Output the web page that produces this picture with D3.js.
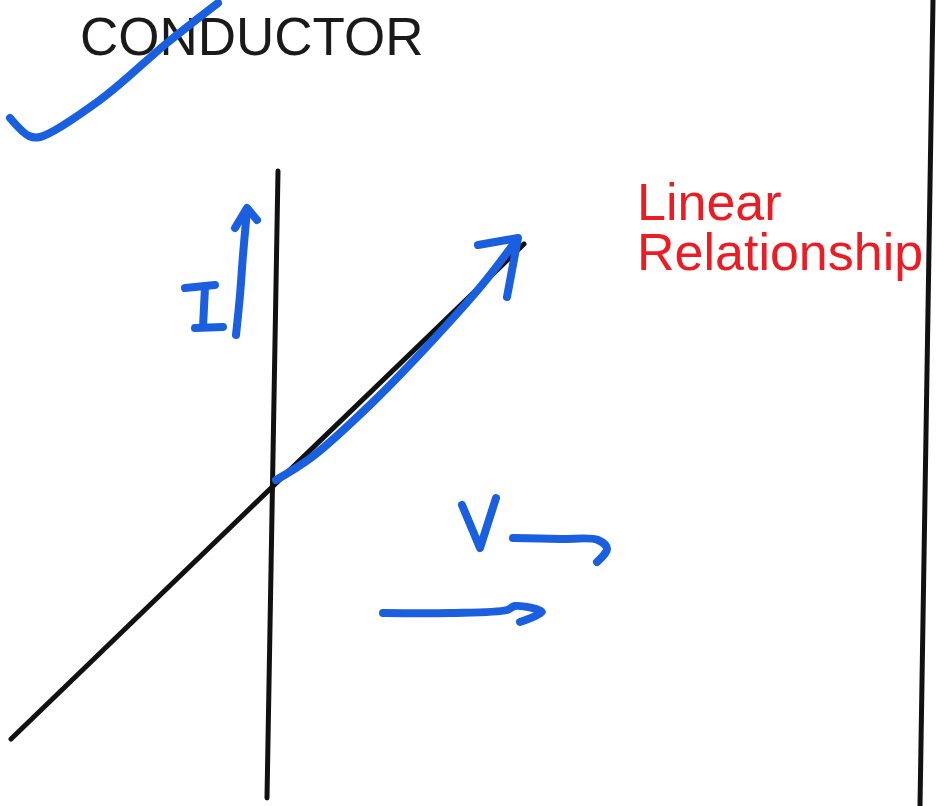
<!DOCTYPE html>
<html>
<head>
<meta charset="utf-8">
<script src="https://cdn.jsdelivr.net/npm/d3@7"></script>
<style>
	html,body{margin:0;padding:0;background:#fff;}
	svg{display:block;}
	.ink{fill:none;stroke-linecap:round;stroke-linejoin:round;}
	.pen{stroke:#111;stroke-width:5;}
	.marker{stroke:#1a5fe0;stroke-width:8;}
	text{font-family:"Liberation Sans",Arial,sans-serif;}
</style>
</head>
<body>
<div id="chart"></div>
<script>
//sketch coordinates: origin where the two axes cross, x to the right (V), y upward (I)
var vAxis=[[6,314],[-5,-313]];//vertical (I) axis
var ivLine=[[-261,-254],[252,241]];//straight I-V line of the conductor
var rightEdge=[[661,485],[648,-321]];//border at the right of the page
var ivTrace=[[4,5],[40,28],[100,82],[160,144],[210,200],[243,243]];//blue trace over the line
var ivHead=[[206,240],[246,247],[235,188]];
var iArrow=[[-36,150],[-32,190],[-29,230],[-25,275]];
var iArrowHead=[[-37,257],[-25,277],[-15,265]];
var iGlyph=[[[-87,197],[-57,200]],[[-67,198],[-69,158]],[[-77,157],[-49,158]]];
var vGlyph=[[190,-20],[208,-63],[224,-13]];
var vArrow=[[241,-53],[288,-54],[326,-55],[335,-64],[325,-77]];
var lowArrow=[[111,-128],[178,-128],[235,-125],[243,-121],[270,-127],[248,-137]];
var tick=[[-262,367],[-243,349],[-232,348],[-172,385],[-105,442],[-54,482]];
var titles=["CONDUCTOR"];
var notes=["Linear","Relationship"];

var width=937,height=806;
var x=d3.scaleLinear().domain([-272,665]).range([0,width]);
var y=d3.scaleLinear().domain([485,-321]).range([0,height]);

var svg=d3.select("#chart").append("svg")
	.attr("width",width)
	.attr("height",height);

var straight=d3.line().x(function(d){return x(d[0]);}).y(function(d){return y(d[1]);});
var smooth=d3.line().x(function(d){return x(d[0]);}).y(function(d){return y(d[1]);}).curve(d3.curveCatmullRom.alpha(0.5));

//printed labels first, the ink goes on top of them
svg.append("text")
	.attr("x",x(-192)).attr("y",y(430))
	.attr("font-size","53px")
	.attr("fill","#1a1a1a")
	.text(titles[0]);
svg.selectAll("text.note")
	.data(notes)
	.enter().append("text")
	.classed("note",true)
	.attr("x",x(365))
	.attr("y",function(d,i){return y(265-i*50);})
	.attr("font-size","52px")
	.attr("fill","#ec1c24")
	.text(function(d){return d;});

//black pen
svg.selectAll("path.pen")
	.data([vAxis,ivLine,rightEdge])
	.enter().append("path")
	.attr("class","ink pen")
	.attr("d",straight);

//blue marker
var strokes=[ivTrace,iArrow,vArrow,lowArrow,tick];
svg.selectAll("path.smooth")
	.data(strokes)
	.enter().append("path")
	.attr("class","ink marker smooth")
	.attr("d",smooth);
svg.selectAll("path.sharp")
	.data([ivHead,iArrowHead,vGlyph].concat(iGlyph))
	.enter().append("path")
	.attr("class","ink marker sharp")
	.attr("d",straight);
</script>
</body>
</html>
